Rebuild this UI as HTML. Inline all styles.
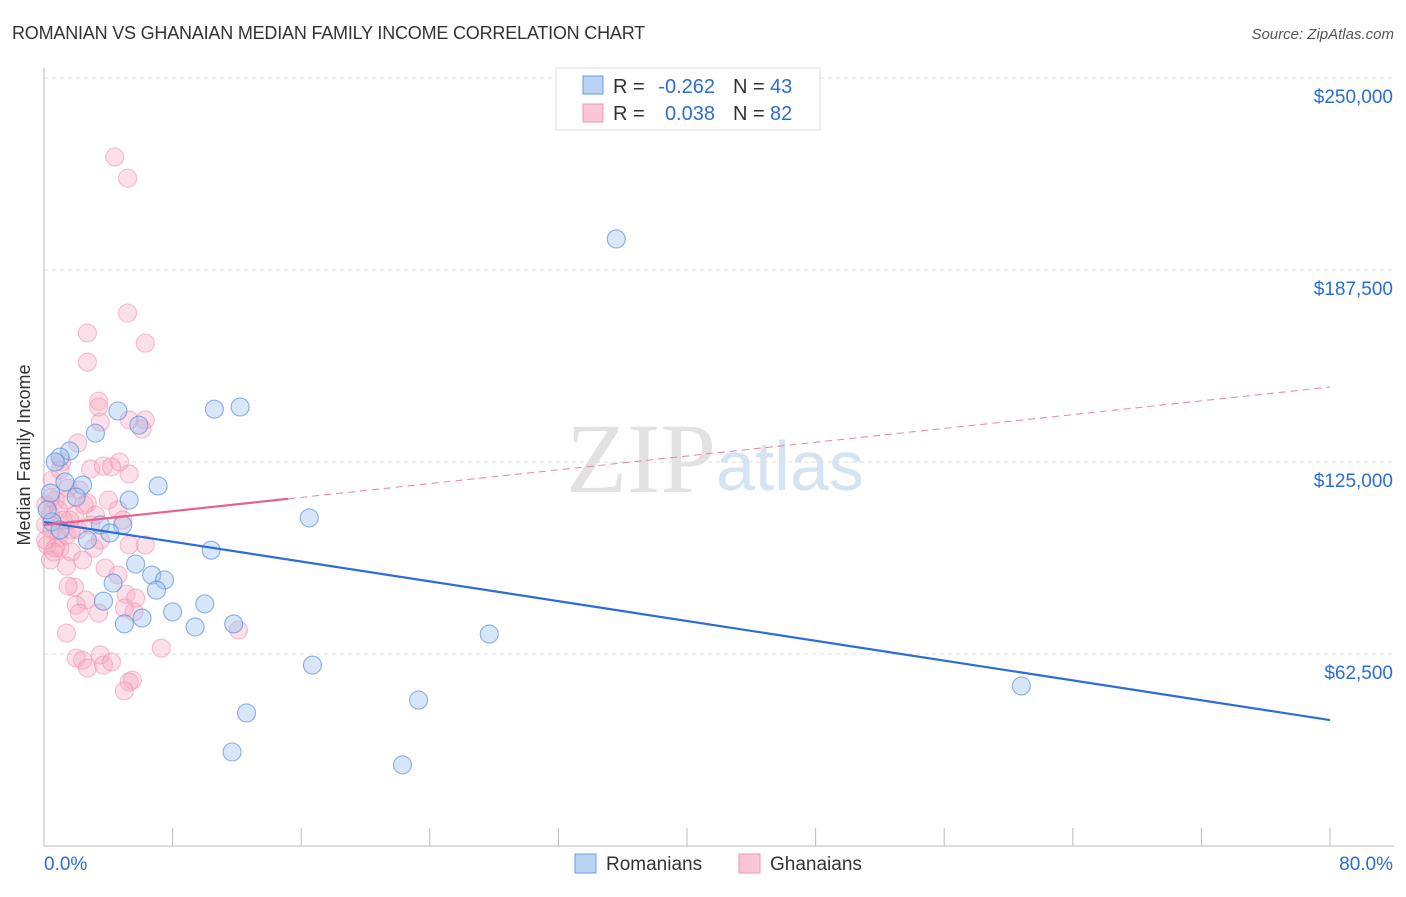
<!DOCTYPE html>
<html><head><meta charset="utf-8"><style>
body{margin:0;background:#fff;font-family:"Liberation Sans",sans-serif}
</style></head><body>
<svg id="c" width="1406" height="892" xmlns="http://www.w3.org/2000/svg">
<text x="12" y="39" font-size="18" fill="#333" letter-spacing="-0.2">ROMANIAN VS GHANAIAN MEDIAN FAMILY INCOME CORRELATION CHART</text>
<text x="1394" y="39" font-size="15" fill="#555" font-style="italic" text-anchor="end">Source: ZipAtlas.com</text>
<text x="716" y="492" font-size="100" fill="#e2e2e2" text-anchor="end" font-family="Liberation Serif">ZIP</text>
<text x="716" y="490" font-size="70" fill="#d6e3f3">atlas</text>
<g id="grid"></g><g id="axes"></g><g id="pts"></g><g id="lines"></g>
<text x="30" y="455" font-size="18" fill="#333" text-anchor="middle" transform="rotate(-90 30 455)">Median Family Income</text>
<g>
<rect x="556" y="68" width="264" height="62" fill="#fff" stroke="#ddd"/>
<rect x="583" y="76" width="20" height="18" fill="#b9d3f5" stroke="#6b9be0"/>
<rect x="583" y="104" width="20" height="18" fill="#fac6d6" stroke="#ec9ab4"/>
<text x="613" y="93" font-size="20" fill="#333">R =</text>
<text x="715" y="93" font-size="20" fill="#2a6dd6" text-anchor="end">-0.262</text>
<text x="733" y="93" font-size="20" fill="#333">N =</text>
<text x="770" y="93" font-size="20" fill="#2a6dd6">43</text>
<text x="613" y="120" font-size="20" fill="#333">R =</text>
<text x="715" y="120" font-size="20" fill="#2a6dd6" text-anchor="end">0.038</text>
<text x="733" y="120" font-size="20" fill="#333">N =</text>
<text x="770" y="120" font-size="20" fill="#2a6dd6">82</text>
</g>
<g>
<rect x="575" y="854" width="21" height="19" fill="#b9d3f5" stroke="#6b9be0"/>
<text x="606" y="870" font-size="19" fill="#333">Romanians</text>
<rect x="739" y="854" width="21" height="19" fill="#fac6d6" stroke="#ec9ab4"/>
<text x="770" y="870" font-size="19" fill="#333">Ghanaians</text>
</g>
</svg>
<script>
const yTicks=[62.5,125,187.5,250];
const yTickLabels=["$62,500","$125,000","$187,500","$250,000"];
const xTickLabels=["0.0%","80.0%"];
const romX=[35.6,10.6,12.2,4.6,5.9,3.2,1.6,1.0,0.7,7.1,5.3,1.3,2.4,2.0,0.4,3.5,4.9,4.1,16.5,10.4,5.7,6.7,7.5,7.0,4.3,3.7,10.0,8.0,5.0,6.1,9.4,11.8,27.7,60.8,16.7,12.6,23.3,11.7,22.3,0.5,2.7,0.2,1.0];
const romY=[197.6,142.2,142.9,141.6,137.0,134.4,128.6,126.6,125.0,117.2,112.6,118.5,117.5,113.6,114.9,104.5,104.5,101.9,106.8,96.3,91.8,88.2,86.6,83.3,85.6,79.7,78.8,76.2,72.3,74.2,71.3,72.3,69.0,52.1,58.9,43.3,47.5,30.6,26.4,105.5,99.6,109.4,102.9];
const ghaX=[4.4,5.2,5.2,6.3,2.7,2.7,3.4,3.4,3.5,5.3,6.3,6.1,2.1,1.1,2.9,3.7,4.7,4.2,5.3,1.5,2.2,2.7,0.7,1.9,0.4,0.1,0.5,0.9,1.4,2.1,2.9,3.5,4.6,4.9,6.3,0.2,1.0,1.7,3.1,3.8,4.6,5.3,1.4,1.9,1.5,2.6,2.0,2.2,3.4,5.1,5.7,5.6,5.0,1.4,2.0,2.4,2.7,3.7,3.5,4.2,5.5,5.3,5.0,7.3,12.1,0.4,0.7,0.1,0.9,1.4,1.6,2.5,3.2,4.0,0.5,1.0,1.7,0.6,1.2,0.1,0.4,2.4];
const ghaY=[224.3,217.4,173.5,163.7,167.0,157.5,144.8,142.9,138.0,138.7,138.7,135.7,131.2,125.0,122.7,123.7,125.0,123.4,121.1,116.5,115.9,111.6,112.6,107.7,107.7,104.5,102.9,100.3,101.2,102.9,104.5,99.6,109.4,106.1,98.0,98.0,97.0,95.7,97.0,90.5,88.2,98.0,91.1,84.3,84.6,80.1,78.4,75.8,75.8,82.0,80.7,76.2,77.5,69.3,61.2,60.5,57.9,58.9,62.2,59.9,54.0,53.4,50.5,64.4,70.3,93.1,97.0,111.0,109.4,112.6,106.1,111.0,107.7,112.6,119.1,122.4,102.9,95.7,106.1,99.6,113.3,93.1];
const romTrend=[105.5,41.0];
const ghaTrend=[104.5,149.4];
const ghaSolidEnd=15.2;
const NS="http://www.w3.org/2000/svg";
const X=v=>44+v/80*1286, Y=v=>846-v/250*768;
function mk(t,a,p){const e=document.createElementNS(NS,t);for(const k in a)e.setAttribute(k,a[k]);document.getElementById(p).appendChild(e);return e;}
let e=mk('line',{x1:44,x2:1394,y1:Y(250),y2:Y(250),stroke:'#ddd','stroke-dasharray':'4 4'},'grid');


yTicks.forEach((t,i)=>{
 let g=mk('line',{x1:44,x2:1394,y1:Y(t),y2:Y(t),stroke:'#ddd','stroke-dasharray':'4 4'},'grid');
 
 
 let l=mk('text',{x:1393,y:Y(t)+25,'font-size':19,fill:'#2a6dd6','text-anchor':'end'},'axes');l.textContent=yTickLabels[i];
 
 
});
let ax=mk('line',{x1:44,x2:1394,y1:846,y2:846,stroke:'#bbb'},'axes');


let ay=mk('line',{x1:44,x2:44,y1:68,y2:846,stroke:'#bbb'},'axes');


for(let i=1;i<=10;i++){let t=mk('line',{x1:X(i*8),x2:X(i*8),y1:828,y2:846,stroke:'#bbb'},'axes');
 
 }
let xl=mk('text',{x:44,y:870,'font-size':19,fill:'#2a6dd6'},'axes');xl.textContent=xTickLabels[0];


let xr=mk('text',{x:1393,y:870,'font-size':19,fill:'#2a6dd6','text-anchor':'end'},'axes');xr.textContent=xTickLabels[1];


ghaX.forEach((x,i)=>{let c=mk('circle',{cx:X(x),cy:Y(ghaY[i]),r:9,fill:'rgba(245,165,192,0.35)',stroke:'rgba(236,140,172,0.55)','stroke-width':1.1},'pts');
 
 });
romX.forEach((x,i)=>{let c=mk('circle',{cx:X(x),cy:Y(romY[i]),r:9,fill:'rgba(155,192,240,0.4)',stroke:'rgba(80,136,215,0.65)','stroke-width':1.1},'pts');
 
 });
let rl=mk('line',{x1:X(0),y1:Y(romTrend[0]),x2:X(80),y2:Y(romTrend[1]),stroke:'#2a6dd6','stroke-width':2.2},'lines');


const gy=x=>ghaTrend[0]+(ghaTrend[1]-ghaTrend[0])*x/80;
let gd=mk('line',{x1:X(ghaSolidEnd),y1:Y(gy(ghaSolidEnd)),x2:X(80),y2:Y(gy(80)),stroke:'#ec8aaa','stroke-width':1.1,'stroke-dasharray':'7 5'},'lines');


let gs=mk('line',{x1:X(0),y1:Y(gy(0)),x2:X(ghaSolidEnd),y2:Y(gy(ghaSolidEnd)),stroke:'#e8628e','stroke-width':2.2},'lines');


</script>
</body></html>
